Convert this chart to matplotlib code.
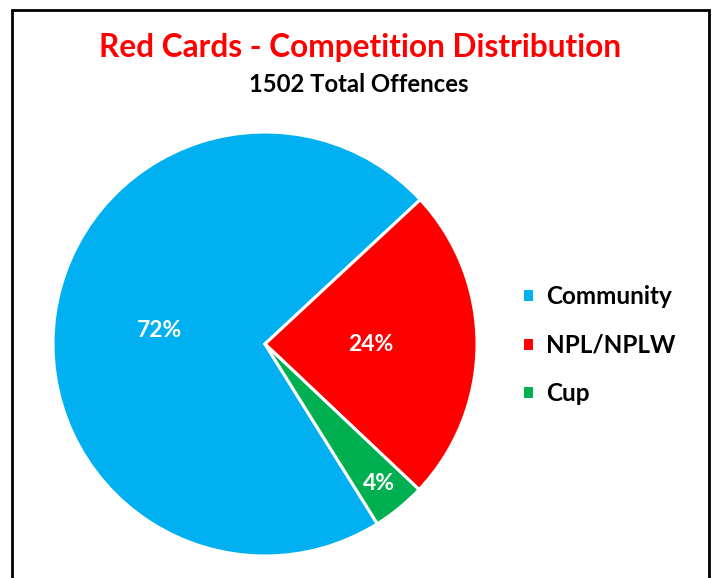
import numpy as np
import matplotlib.pyplot as plt
from matplotlib.patches import Rectangle

plt.rcParams['font.family'] = ['Lato', 'DejaVu Sans']
plt.rcParams['font.weight'] = 'bold'

categories = ['Community', 'NPL/NPLW', 'Cup']
counts = [1081, 360, 61]
colors = ['#00B0F0', '#FF0000', '#00B050']
label_radius = [0.5, 0.5, 0.85]

fig = plt.figure(figsize=(7.12, 5.78), dpi=100)
fig.patch.set_facecolor('white')

# chart border (bottom runs off the picture)
fig.add_artist(Rectangle((12 / 712, -0.05), 697 / 712, 1 - 10 / 578 + 0.05,
                         transform=fig.transFigure, fill=False,
                         edgecolor='black', linewidth=2))

fig.text(360 / 712, 1 - 47 / 578, 'Red Cards - Competition Distribution',
         ha='center', va='center', color='#FF0000', fontsize=22.8, fontweight='bold')
fig.text(359 / 712, 1 - 85 / 578, '%d Total Offences' % sum(counts),
         ha='center', va='center', color='black', fontsize=17.2, fontweight='bold')

ax = fig.add_axes([53 / 712, 22 / 578, 424 / 712, 424 / 578])
total = sum(counts)
wedges, _ = ax.pie(counts, colors=colors, startangle=-58, counterclock=False,
                   wedgeprops=dict(edgecolor='white', linewidth=2.2))
ax.set_xlim(-1.0, 1.0)
ax.set_ylim(-1.0, 1.0)
ax.set_aspect('equal')

for w, c, r in zip(wedges, counts, label_radius):
    mid = np.deg2rad((w.theta1 + w.theta2) / 2)
    ax.text(r * np.cos(mid), r * np.sin(mid), '%d%%' % round(100 * c / total),
            ha='center', va='center', color='white', fontsize=16.5, fontweight='bold')

leg = fig.legend(wedges, categories, loc='center left',
                 bbox_to_anchor=(500 / 712, 1 - 345 / 578), frameon=False,
                 fontsize=17.5, handlelength=0.5, handleheight=0.5,
                 handletextpad=0.5, labelspacing=1.05)
for t in leg.get_texts():
    t.set_fontweight('bold')

fig.savefig('out.png', dpi=100, facecolor='white')
